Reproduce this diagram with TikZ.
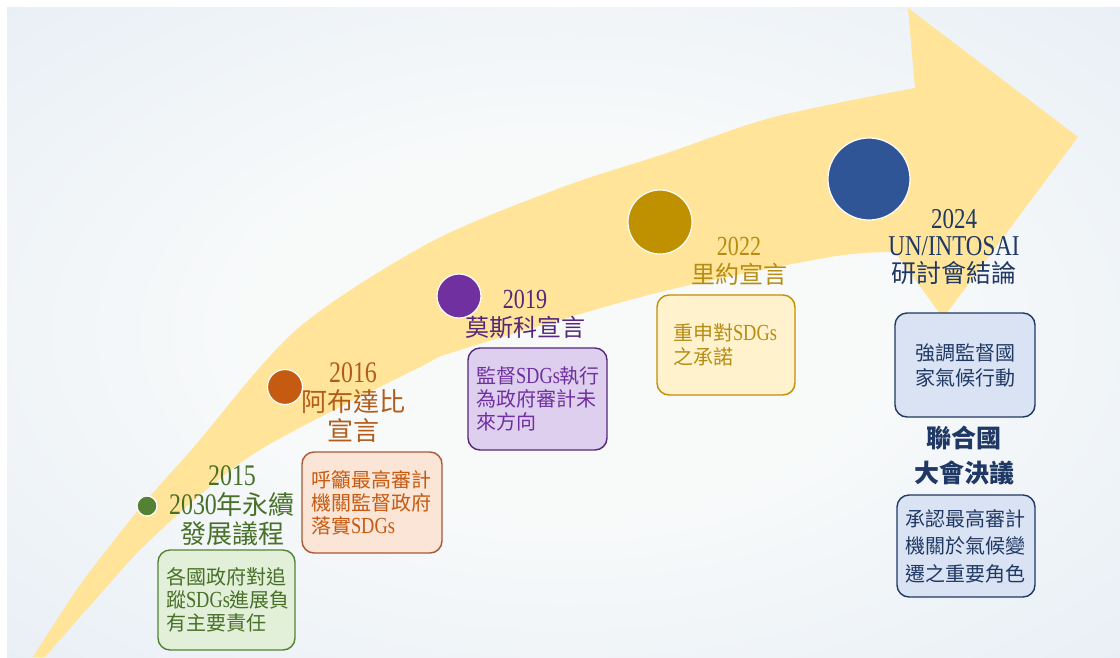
\documentclass[tikz,border=0pt]{standalone}
\usepackage{fontspec}
\newfontfamily\cjk{Noto Sans CJK TC}
\newfontfamily\numfont[FakeStretch=0.8,Scale=1.15]{Liberation Serif}
\newcommand{\latn}[1]{{\numfont #1}}

\definecolor{bgout}{RGB}{212,227,242}
\definecolor{bgmid}{RGB}{234,240,246}
\definecolor{bgin}{RGB}{248,250,250}
\definecolor{arrowgold}{RGB}{255,228,153}
\definecolor{green15}{RGB}{84,130,53}
\definecolor{green15t}{RGB}{72,112,40}
\definecolor{green15f}{RGB}{226,240,217}
\definecolor{orange16}{RGB}{197,90,17}
\definecolor{orange16t}{RGB}{178,92,28}
\definecolor{orange16d}{RGB}{168,88,52}
\definecolor{orange16f}{RGB}{251,229,214}
\definecolor{purple19}{RGB}{112,48,160}
\definecolor{purple19t}{RGB}{84,40,122}
\definecolor{purple19f}{RGB}{222,207,238}
\definecolor{gold22}{RGB}{191,144,0}
\definecolor{gold22t}{RGB}{182,140,18}
\definecolor{gold22f}{RGB}{255,242,204}
\definecolor{blue24}{RGB}{47,85,151}
\definecolor{blue24t}{RGB}{31,56,100}
\definecolor{blue24f}{RGB}{218,227,243}

\pgfdeclareradialshading{bgglow}{\pgfpointorigin}{color(0bp)=(bgin); color(14bp)=(bgin); color(34bp)=(bgmid); color(56bp)=(bgout); color(75bp)=(bgout)}

\begin{document}
\begin{tikzpicture}
[x=1pt,y=-1pt,
 dot/.style={circle, draw=white, line width=1.2pt, inner sep=0pt},
 title/.style={align=center, font=\cjk\fontsize{26}{29}\selectfont},
 card/.style={draw, rounded corners=12pt, line width=1.4pt, inner xsep=10pt, inner ysep=0pt,
   align=left, font=\cjk\fontsize{20}{23}\selectfont},
]
\useasboundingbox (0,0) rectangle (1120,657);
\fill[white] (0,0) rectangle (1120,657);
\shade[shading=bgglow] (7,7) rectangle (1120,657);

% the big arrow
\fill[arrowgold] plot[smooth] coordinates {(33,657) (80,585) (140,508) (193,448) (296,330) (429,243) (560,188) (667,153) (774,117) (915,88)}
  -- (908,8) -- (1078,137) -- (943,318) -- (895,252)
  -- plot[smooth] coordinates {(895,252) (830,257) (656,293) (460,350) (420,367) (268,445) (200,495) (140,550) (95,600) (45,657)} -- cycle;

\foreach \name/\x/\y/\r/\c in {d15/147/506/10/green15, d16/285/387/17.5/orange16, d19/459/296/22/purple19, d22/660/222/32/gold22, d24/869/179/41/blue24}
{
\node[dot, fill=\c, minimum size=\r*2pt] (\name) at (\x,\y) {};
}

\node[title, text=green15t] (t15) at (232,506) {\latn{2015}\\\latn{2030}年永續\\發展議程};
\node[title, text=orange16t] (t16) at (353,403) {\latn{2016}\\阿布達比\\宣言};
\node[title, text=purple19t, font=\cjk\fontsize{24}{28}\selectfont] (t19) at (525,314) {\latn{2019}\\莫斯科宣言};
\node[title, text=gold22t, font=\cjk\fontsize{24}{28}\selectfont] (t22) at (739,261) {\latn{2022}\\里約宣言};
\node[title, text=blue24t, font=\cjk\fontsize{25}{27}\selectfont] (t24) at (954,247) {\latn{2024}\\\latn{UN/INTOSAI}\\研討會結論};
\node[title, text=blue24t, font=\cjk\bfseries\fontsize{25}{35}\selectfont] (un) at (964,455) {聯合國\\大會決議};

\node[card, draw=green15, fill=green15f, text=green15t, text width=121pt, inner xsep=8pt, minimum height=100pt] (b15) at (226.5,600)
  {各國政府對追\\蹤\latn{SDGs}進展負\\有主要責任};
\node[card, draw=orange16d, fill=orange16f, text=orange16, text width=122pt, inner xsep=9pt, minimum height=101pt] (b16) at (372,502.5)
  {呼籲最高審計\\機關監督政府\\落實\latn{SDGs}};
\node[card, draw=purple19t, fill=purple19f, text=purple19, text width=123pt, inner xsep=8pt, minimum height=102pt] (b19) at (537.5,399)
  {監督\latn{SDGs}執行\\為政府審計未\\來方向};
\node[card, draw=gold22, fill=gold22f, text=gold22t, text width=106pt, inner xsep=16pt, minimum height=100pt,
  font=\cjk\fontsize{20}{24}\selectfont] (b22) at (726,345)
  {重申對\latn{SDGs}\\之承諾};
\node[card, draw=blue24t, fill=blue24f, text=blue24t, text width=120pt, align=center, minimum height=104pt,
  font=\cjk\fontsize{20}{25}\selectfont] (b24) at (965,365)
  {強調監督國\\家氣候行動};
\node[card, draw=blue24t, fill=blue24f, text=blue24t, text width=122pt, inner xsep=8pt, minimum height=102pt,
  font=\cjk\fontsize{20}{27.5}\selectfont] (b24un) at (966,546)
  {承認最高審計\\機關於氣候變\\遷之重要角色};
\end{tikzpicture}
\end{document}
